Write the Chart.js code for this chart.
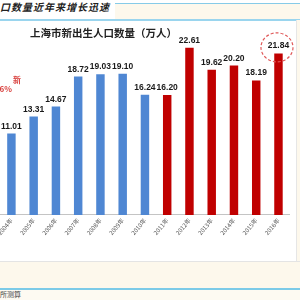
<!DOCTYPE html>
<html>
<head>
<meta charset="utf-8">
<script src="https://cdn.jsdelivr.net/npm/chart.js@4.4.1/dist/chart.umd.min.js"></script>
<style>
    html, body { margin: 0; padding: 0; }
    body { width: 300px; height: 300px; overflow: hidden; position: relative; background: #fff; font-family: "Noto Sans CJK SC", sans-serif; }
    .abs { position: absolute; }
    .banner-bg { left: 115px; top: 3px; width: 185px; height: 16px; background: #fdf8ec; border-top: 1.5px solid #86cbe8; }
    .banner-line { left: 0; top: 19px; width: 300px; height: 1.5px; background: #9ad5ee; }
    .banner-title { left: 0; top: 0; font-size: 10px; font-style: italic; font-weight: bold; letter-spacing: 1px; color: #222; white-space: nowrap; line-height: 14px; }
    .side { left: 296px; top: 20px; width: 4px; height: 242px; background: #fdf8ec; border-left: 1px solid #e6e6e6; }
    .footer-bg { left: 0; top: 261px; width: 300px; height: 27px; background: #fdf8ec; border-top: 1px solid #e4e4e4; }
    .footer-line { left: 0; top: 288px; width: 300px; height: 2px; background: #7ccbe8; }
    .footer-low { left: 0; top: 290px; width: 300px; height: 10px; background: #fdfaf2; }
    .source { left: 0; top: 289px; font-size: 7px; color: #444; line-height: 10px; white-space: nowrap; }
    .chart-title { left: 30px; top: 26px; font-size: 10.5px; font-weight: bold; color: #222; white-space: nowrap; line-height: 14px; }
    .note { font-size: 8px; font-weight: bold; color: #d9413e; white-space: nowrap; text-align: right; line-height: 10px; }
    #box { left: -3px; top: 20px; width: 299px; height: 241px; }
</style>
</head>
<body>
<div class="abs banner-bg"></div>
<div class="abs banner-line"></div>
<div class="abs banner-title">口数量近年来增长迅速</div>
<div class="abs side"></div>
<div class="abs footer-bg"></div>
<div class="abs footer-line"></div>
<div class="abs footer-low"></div>
<div class="abs source">所测算</div>

<div class="abs" id="box"><canvas id="myChart"></canvas></div>

<div class="abs chart-title">上海市新出生人口数量（万人）</div>
<div class="abs note" style="right: 279px; top: 75px;">新</div>
<div class="abs note" style="right: 288px; top: 84px;">6%</div>

<script>
    // Données
    const years = ['2004年', '2005年', '2006年', '2007年', '2008年', '2009年', '2010年',
        '2011年', '2012年', '2013年', '2014年', '2015年', '2016年'];
    const births = [11.01, 13.31, 14.67, 18.72, 19.03, 19.10, 16.24,
        16.20, 22.61, 19.62, 20.20, 18.19, 21.84];
    // Les barres à partir de cette année passent en rouge
    const firstRedYear = '2011年';
    const yMin = 0;
    const yMax = 25;

    const blue = '#4f87d3';
    const red = '#c00000';

    /**
     * Écrit la valeur au-dessus de chaque barre, et entoure la dernière.
     */
    const valueLabels = {
        id: 'valueLabels',
        afterDatasetsDraw(chart)
        {
            const ctx = chart.ctx;
            const meta = chart.getDatasetMeta(0);
            ctx.save();
            ctx.font = 'bold 8.5px "Liberation Sans", Arial, sans-serif';
            ctx.fillStyle = '#1a1a1a';
            ctx.textAlign = 'center';
            ctx.textBaseline = 'bottom';
            meta.data.forEach((bar, i) => {
                ctx.fillText(births[i].toFixed(2), bar.x, bar.y - 3);
            });

            const last = meta.data[meta.data.length - 1];
            ctx.strokeStyle = '#e05a5a';
            ctx.lineWidth = 1.2;
            ctx.setLineDash([3, 2]);
            ctx.beginPath();
            ctx.ellipse(last.x - 1.5, last.y - 6, 16, 14.5, 0, 0, Math.PI * 2);
            ctx.stroke();
            ctx.restore();
        }
    };

    const redIndex = years.indexOf(firstRedYear);

    const config = {
        type: 'bar',
        data: {
            labels: years,
            datasets: [{
                data: births,
                backgroundColor: births.map((v, i) => (i < redIndex ? blue : red)),
                barPercentage: 0.38,
                categoryPercentage: 1,
            }],
        },
        options: {
            responsive: true,
            maintainAspectRatio: false,
            animation: false,
            layout: {
                padding: { left: 0, right: 6.4, top: 10, bottom: 22.6 },
            },
            plugins: {
                legend: { display: false },
                tooltip: { enabled: false },
            },
            scales: {
                x: {
                    grid: { display: false, drawTicks: false },
                    border: { color: '#c4c4c4', width: 1 },
                    ticks: {
                        autoSkip: false,
                        minRotation: 50,
                        maxRotation: 50,
                        padding: 2,
                        color: '#555',
                        font: { size: 6, family: '"Noto Sans CJK SC", sans-serif' },
                    },
                },
                y: {
                    display: false,
                    min: yMin,
                    max: yMax,
                },
            },
        },
        plugins: [valueLabels],
    };

    const ctx = document.getElementById('myChart').getContext('2d');
    const myChart = new Chart(ctx, config);
</script>
</body>
</html>
